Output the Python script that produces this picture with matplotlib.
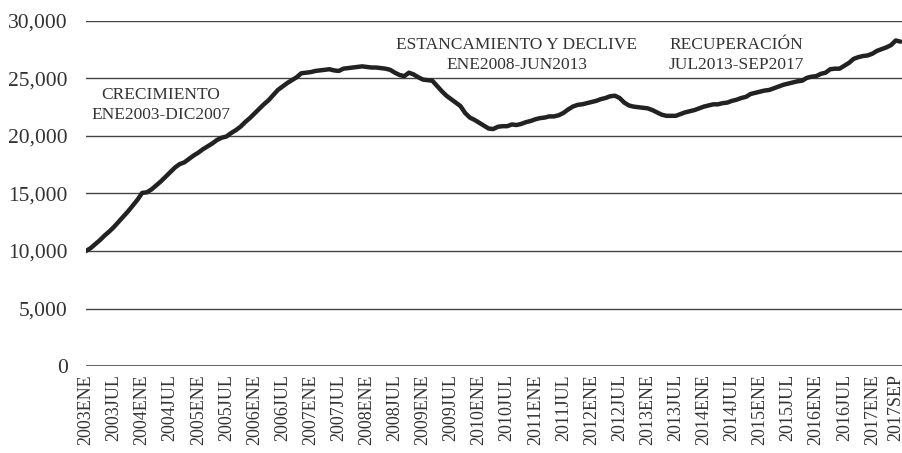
import matplotlib.pyplot as plt
import matplotlib.transforms as mtransforms
import numpy as np

# monthly series, ENE 2003 - SEP 2017
values = [
    10000, 10250, 10600, 10950, 11350, 11700, 12100, 12550, 13000, 13450,
    13950, 14450, 15050, 15100, 15350, 15700, 16050, 16450, 16850, 17250,
    17550, 17700, 18000, 18300, 18550, 18850, 19100, 19350, 19650, 19850,
    19950, 20250, 20500, 20800, 21200, 21550, 21950, 22350, 22750, 23100,
    23550, 24000, 24300, 24600, 24850, 25100, 25450, 25500, 25550, 25650,
    25700, 25750, 25800, 25700, 25650, 25850, 25900, 25950, 26000, 26050,
    26000, 25950, 25950, 25900, 25850, 25750, 25500, 25300, 25200, 25500,
    25350, 25100, 24900, 24850, 24800, 24350, 23900, 23500, 23200, 22900,
    22600, 22000, 21600, 21400, 21150, 20900, 20650, 20600, 20800, 20850,
    20850, 21000, 20950, 21050, 21200, 21300, 21450, 21550, 21600, 21700,
    21700, 21800, 22000, 22300, 22550, 22700, 22750, 22850, 22950, 23050,
    23200, 23300, 23450, 23500, 23300, 22900, 22650, 22550, 22500, 22450,
    22400, 22250, 22050, 21850, 21750, 21750, 21750, 21900, 22050, 22150,
    22250, 22400, 22550, 22650, 22750, 22750, 22850, 22900, 23050, 23150,
    23300, 23400, 23650, 23750, 23850, 23950, 24000, 24150, 24300, 24450,
    24550, 24650, 24750, 24800, 25050, 25150, 25200, 25400, 25500, 25800,
    25850, 25850, 26100, 26350, 26700, 26850, 26950, 27000, 27150, 27400,
    27550, 27700, 27900, 28300, 28200,
]

tick_labels = ['2003ENE', '2003JUL', '2004ENE', '2004JUL', '2005ENE', '2005JUL',
               '2006ENE', '2006JUL', '2007ENE', '2007JUL', '2008ENE', '2008JUL',
               '2009ENE', '2009JUL', '2010ENE', '2010JUL', '2011ENE', '2011JUL',
               '2012ENE', '2012JUL', '2013ENE', '2013JUL', '2014ENE', '2014JUL',
               '2015ENE', '2015JUL', '2016ENE', '2016JUL', '2017ENE', '2017SEP']

phases = ['CRECIMIENTO\nENE2003-DIC2007',
          'ESTANCAMIENTO Y DECLIVE\nENE2008-JUN2013',
          'RECUPERACIÓN\nJUL2013-SEP2017']
phase_x = [16, 92, 139]
phase_y = [22700, 27050, 27050]

plt.rcParams['font.family'] = ['Liberation Serif', 'DejaVu Serif']

fig = plt.figure(figsize=(9.03, 4.53), dpi=100)
ax = fig.add_axes([0.0952, 0.192, 0.9035, 0.7618])

x = np.arange(len(values))
ax.plot(x, values, color='#222222', lw=3.2, solid_capstyle='round', zorder=3)

ax.set_ylim(0, 30000)
ax.set_xlim(0, 174.3)
ax.set_yticks(range(0, 30001, 5000))
ax.set_yticklabels([f'{v:,}' for v in range(0, 30001, 5000)], fontsize=15.5, color='#333333')
ax.set_xticks(range(0, len(values), 6))
ax.set_xticklabels(tick_labels, rotation=90, fontsize=13, color='#333333')
ax.tick_params(length=0, pad=13, axis='y')
ax.tick_params(length=0, pad=6, axis='x')

# keep the last label inside the figure
last = ax.get_xticklabels()[-1]
last.set_transform(last.get_transform() +
                   mtransforms.ScaledTranslation(-5 / 100, 0, fig.dpi_scale_trans))

for v in range(5000, 30001, 5000):
    ax.axhline(v, color='#444444', lw=1.0, zorder=1)
ax.axhline(0, color='#666666', lw=2.2, zorder=2)

for sp in ax.spines.values():
    sp.set_visible(False)

for t, px, py in zip(phases, phase_x, phase_y):
    ax.text(px, py, t, ha='center', va='center', fontsize=12.5, color='#333333',
            linespacing=1.3, zorder=4)

fig.savefig('out.png', dpi=100)
